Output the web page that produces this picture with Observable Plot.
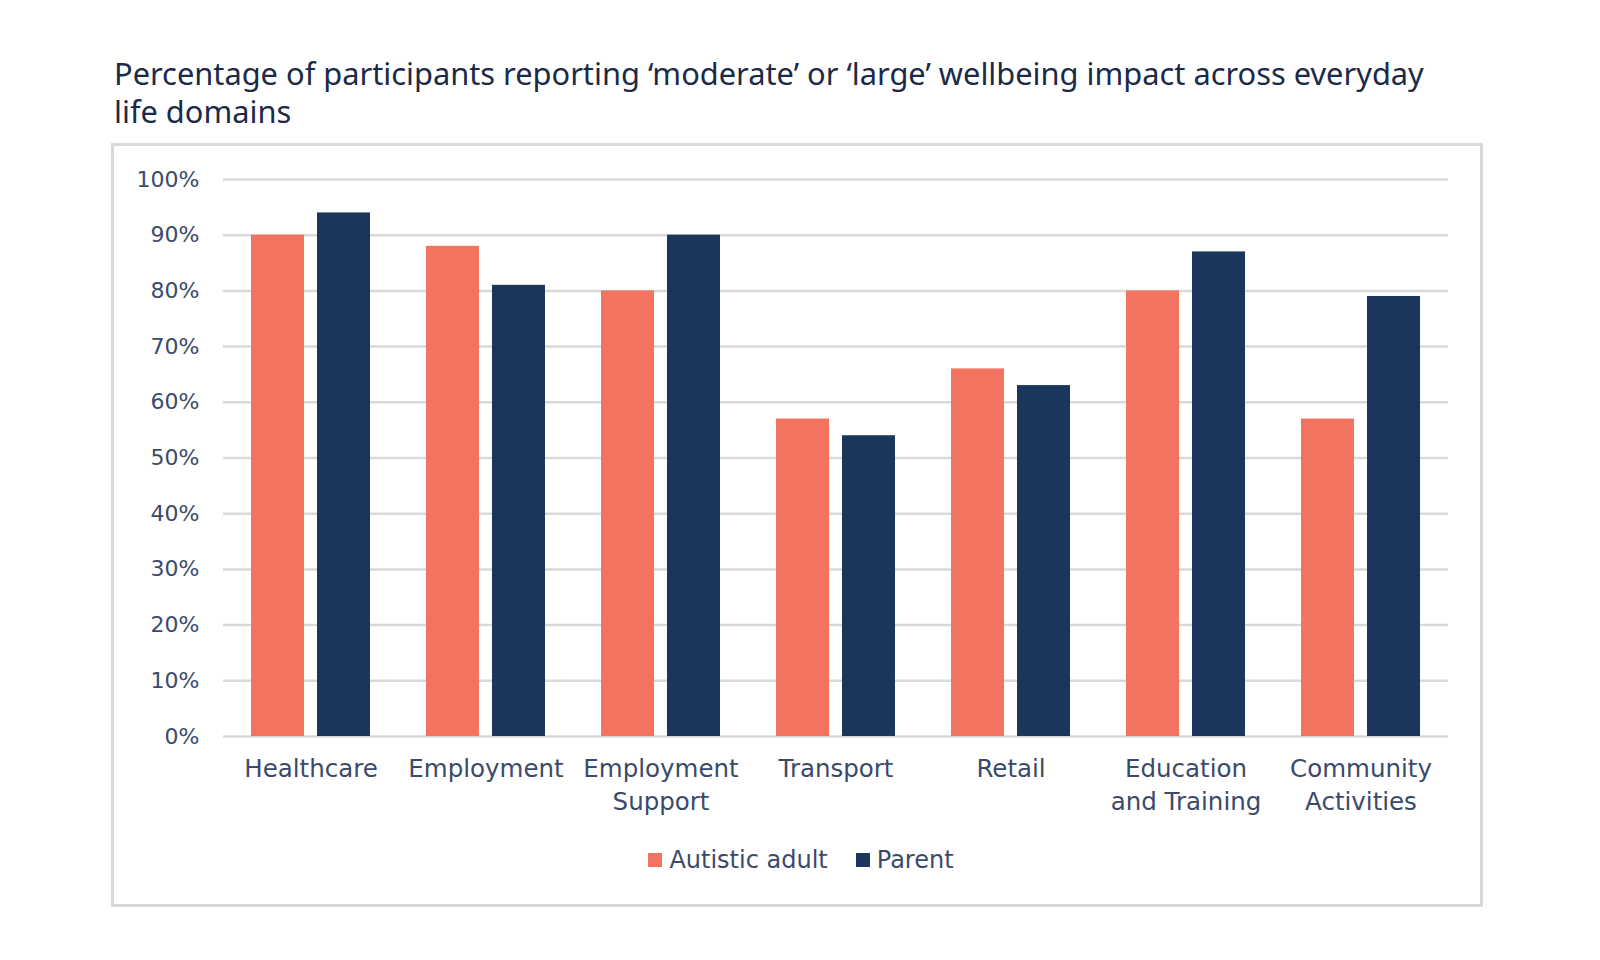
<!DOCTYPE html>
<html>
<head>
<meta charset="utf-8">
<script src="https://cdn.jsdelivr.net/npm/d3@7"></script>
<script src="https://cdn.jsdelivr.net/npm/@observablehq/plot@0.6"></script>
<style>
  html, body { margin: 0; padding: 0; background: #ffffff; }
  body { width: 1600px; height: 960px; position: relative; overflow: hidden; }
  #title { position: absolute; left: 114px; top: 54px; font-family: "Noto Sans", sans-serif; font-size: 30.8px; line-height: 38px; color: #1b2a47; white-space: nowrap; }
  #box { position: absolute; left: 111px; top: 143px; width: 1372px; height: 764px; box-sizing: border-box; border: 3px solid #d9d9d9; }
  #chart { position: absolute; left: 0; top: 144px; }
  #chart svg { display: block; }
  #legend { position: absolute; left: 111px; top: 846px; width: 1380px; display: flex; justify-content: center; font-family: "DejaVu Sans", sans-serif; font-size: 24px; color: #3b4a6b; }
  .item { display: flex; align-items: center; margin: 0 14px; }
  .sw { width: 14px; height: 14px; margin-right: 7px; }
</style>
</head>
<body>
<div id="title">Percentage of participants reporting ‘moderate’ or ‘large’ wellbeing impact across everyday<br>life domains</div>
<div id="box"></div>
<div id="chart"></div>
<div id="legend"></div>
<script>
const categories = ["Healthcare", "Employment", "Employment Support", "Transport", "Retail", "Education and Training", "Community Activities"];
const tickLabels = ["Healthcare", "Employment", "Employment\nSupport", "Transport", "Retail", "Education\nand Training", "Community\nActivities"];
const series = ["Autistic adult", "Parent"];
const autisticAdult = [90, 88, 80, 57, 66, 80, 57];
const parent = [94, 81, 90, 54, 63, 87, 79];
const colors = ["#f2735f", "#1b365d"];
const yTicks = [0, 10, 20, 30, 40, 50, 60, 70, 80, 90, 100];

const table = [];
categories.forEach((c, i) => {
  table.push({domain: c, series: series[0], value: autisticAdult[i]});
  table.push({domain: c, series: series[1], value: parent[i]});
});

const chart = Plot.plot({
  width: 1600,
  height: 692,
  marginTop: 35,
  marginBottom: 100,
  marginLeft: 220,
  marginRight: 150,
  style: {fontFamily: "DejaVu Sans", color: "#3b4a6b", background: "transparent"},
  fx: {domain: categories, padding: 0, label: null},
  x: {domain: series, axis: null, paddingInner: 0.2, paddingOuter: 0.41},
  y: {domain: [0, 100], axis: null},
  color: {domain: series, range: colors},
  marks: [
    Plot.ruleY(yTicks, {stroke: "#d9d9d9", strokeWidth: 2.5}),
    Plot.barY(table, {fx: "domain", x: "series", y: "value", fill: "series"}),
    Plot.axisY({ticks: yTicks, tickSize: 0, tickPadding: 24, tickFormat: d => d + "%", fontSize: 22, label: null, fill: "#3b4a6b"}),
    Plot.axisFx({anchor: "bottom", tickSize: 0, tickPadding: 18, fontSize: 24.5, lineHeight: 1.32, label: null, fill: "#3b4a6b",
      tickFormat: d => tickLabels[categories.indexOf(d)]})
  ]
});
document.getElementById("chart").appendChild(chart);

const legend = document.getElementById("legend");
series.forEach((s, i) => {
  const it = document.createElement("div");
  it.className = "item";
  const sw = document.createElement("span");
  sw.className = "sw";
  sw.style.background = colors[i];
  const tx = document.createElement("span");
  tx.textContent = s;
  it.appendChild(sw);
  it.appendChild(tx);
  legend.appendChild(it);
});
</script>
</body>
</html>
